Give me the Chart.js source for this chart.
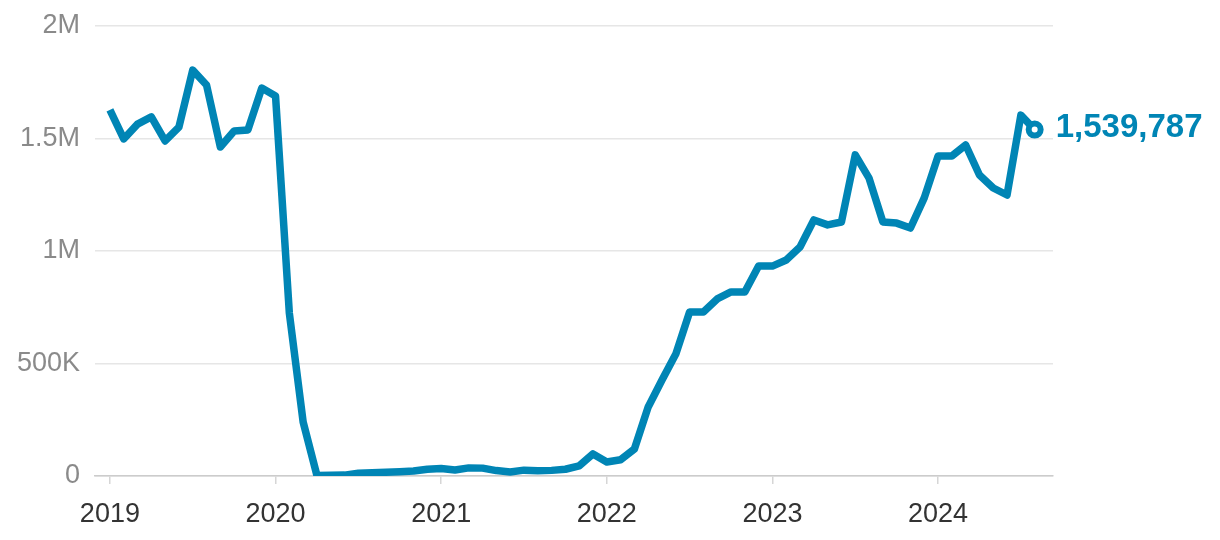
<!DOCTYPE html>
<html lang="en">
<head>
  <meta charset="UTF-8" />
  <title>Monthly series</title>
  <script src="https://cdnjs.cloudflare.com/ajax/libs/Chart.js/4.4.1/chart.umd.js"></script>
  <style>
    html, body {
      margin: 0;
      background: #fff;
    }
    #wrap {
      width: 1220px;
      height: 540px;
    }
  </style>
</head>
<body>
  <div id="wrap"><canvas id="chart"></canvas></div>

  <script>
    const months = [
      '2019-01','2019-02','2019-03','2019-04','2019-05','2019-06','2019-07','2019-08','2019-09','2019-10','2019-11','2019-12',
      '2020-01','2020-02','2020-03','2020-04','2020-05','2020-06','2020-07','2020-08','2020-09','2020-10','2020-11','2020-12',
      '2021-01','2021-02','2021-03','2021-04','2021-05','2021-06','2021-07','2021-08','2021-09','2021-10','2021-11','2021-12',
      '2022-01','2022-02','2022-03','2022-04','2022-05','2022-06','2022-07','2022-08','2022-09','2022-10','2022-11','2022-12',
      '2023-01','2023-02','2023-03','2023-04','2023-05','2023-06','2023-07','2023-08','2023-09','2023-10','2023-11','2023-12',
      '2024-01','2024-02','2024-03','2024-04','2024-05','2024-06','2024-07','2024-08',
    ];

    const values = [
      1627000, 1498000, 1564000, 1596000, 1489000, 1551000, 1804000, 1738000, 1462000, 1533000, 1538000, 1724000,
      1689000, 724000, 240000, 2000, 3000, 4000, 12000, 15000, 17000, 19000, 22000, 30000,
      33000, 27000, 36000, 35000, 24000, 18000, 26000, 23000, 25000, 30000, 45000, 98000,
      62000, 72000, 120000, 307000, 427000, 542000, 729000, 729000, 787000, 818000, 818000, 933000,
      933000, 960000, 1018000, 1138000, 1116000, 1129000, 1427000, 1324000, 1129000, 1124000, 1102000, 1236000,
      1422000, 1422000, 1471000, 1338000, 1280000, 1249000, 1604000, 1539787,
    ];

    const yTicks = [0, 500000, 1000000, 1500000, 2000000];
    const yTickLabels = ['0', '500K', '1M', '1.5M', '2M'];
    const xTicks = [2019, 2020, 2021, 2022, 2023, 2024];

    const blue = '#0085b5';
    const font = '"Liberation Sans", Arial, sans-serif';
    const last = values.length - 1;

    const points = months.map((m, i) => {
      const [y, mo] = m.split('-').map(Number);
      return { x: y + (mo - 1) / 12, y: values[i] };
    });

    const endLabel = {
      id: 'endLabel',
      afterDatasetsDraw(chart) {
        const pt = chart.getDatasetMeta(0).data[last];
        const ctx = chart.ctx;
        ctx.save();
        ctx.font = 'bold 33px ' + font;
        ctx.fillStyle = blue;
        ctx.textAlign = 'left';
        ctx.textBaseline = 'middle';
        ctx.fillText(values[last].toLocaleString('en-US'), pt.x + 21, pt.y - 2);
        ctx.restore();
      }
    };

    new Chart(document.getElementById('chart'), {
      type: 'line',
      data: {
        datasets: [{
          data: points,
          borderColor: blue,
          borderWidth: 7.5,
          borderJoinStyle: 'round',
          tension: 0,
          pointRadius: ctx => ctx.dataIndex === last ? 6 : 0,
          pointBackgroundColor: '#fff',
          pointBorderColor: blue,
          pointBorderWidth: 6,
          pointHoverRadius: 0,
        }]
      },
      options: {
        responsive: true,
        maintainAspectRatio: false,
        animation: false,
        layout: { padding: { top: 26, right: 167, bottom: 0, left: 0 } },
        plugins: {
          legend: { display: false },
          tooltip: { enabled: false },
        },
        scales: {
          x: {
            type: 'linear',
            min: 2018.91,
            max: 2024.694,
            afterBuildTicks: s => { s.ticks = xTicks.map(v => ({ value: v })); },
            afterFit: s => { s.height = 64; s.paddingLeft = 0; s.paddingRight = 0; },
            ticks: {
              callback: v => String(v),
              font: { size: 27, family: font },
              color: '#333',
              padding: 14,
              maxRotation: 0,
            },
            grid: {
              drawOnChartArea: false,
              drawTicks: true,
              tickLength: 8,
              color: '#d6d6d6',
              lineWidth: 1.5,
            },
            border: { color: '#cccccc', width: 1.5 },
          },
          y: {
            min: 0,
            max: 2000000,
            afterBuildTicks: s => { s.ticks = yTicks.map(v => ({ value: v })); },
            afterFit: s => { s.width = 95; s.paddingTop = 0; s.paddingBottom = 0; },
            ticks: {
              callback: v => yTickLabels[yTicks.indexOf(v)],
              font: { size: 27, family: font },
              color: '#8a8a8a',
              padding: 15,
            },
            grid: {
              color: '#e6e6e6',
              lineWidth: 1.5,
              drawTicks: false,
            },
            border: { display: false },
          }
        }
      },
      plugins: [endLabel]
    });
  </script>
</body>
</html>
